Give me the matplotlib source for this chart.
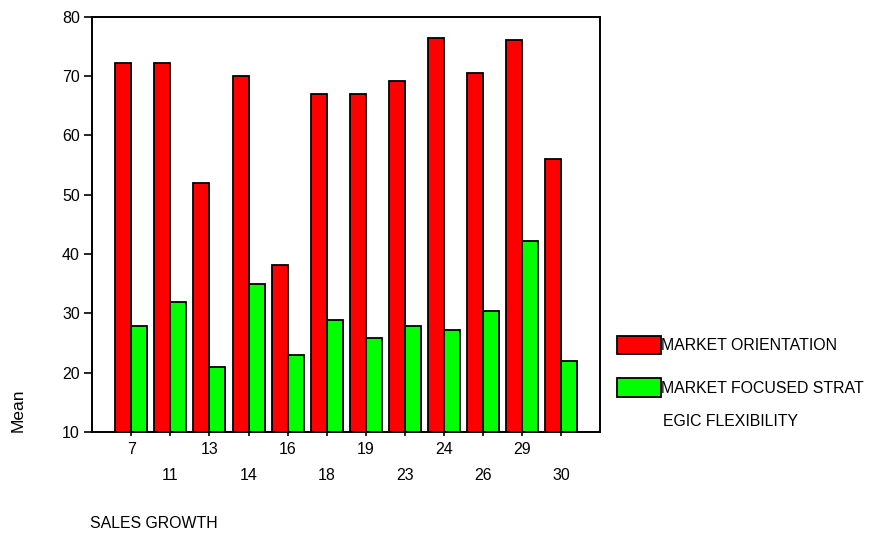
import numpy as np
import matplotlib
matplotlib.use('Agg')
import matplotlib.pyplot as plt

# SALES GROWTH groups and the two means per group
sales_growth = ['7', '11', '13', '14', '16', '18', '19', '23', '24', '26', '29', '30']
market_orientation = [72.2, 72.2, 52.0, 70.0, 38.1, 67.0, 67.0, 69.1, 76.4, 70.5, 76.1, 56.1]
strategic_flexibility = [27.9, 31.9, 21.0, 34.9, 23.0, 28.9, 25.9, 27.9, 27.2, 30.4, 42.2, 22.0]
y_ticks = [10, 20, 30, 40, 50, 60, 70, 80]

plt.rcParams['font.family'] = ['Liberation Sans', 'DejaVu Sans']
fs = 11.5
lfs = 11.4

fig = plt.figure(figsize=(8.7, 5.36), dpi=100)
ax = fig.add_axes([0.1061, 0.194, 0.5836, 0.7748])

x = np.arange(1, len(sales_growth) + 1)
w = 0.41
b1 = ax.bar(x - w / 2, market_orientation, width=w, color='#ff0000',
            edgecolor='black', linewidth=1.3, label='MARKET ORIENTATION')
b2 = ax.bar(x + w / 2, strategic_flexibility, width=w, color='#00ff00',
            edgecolor='black', linewidth=1.3, label='MARKET FOCUSED STRAT')

ax.set_xlim(0, len(sales_growth) + 1)
ax.set_ylim(10, 80)
ax.set_yticks(y_ticks)
ax.tick_params(axis='y', length=6, width=1.2, pad=3, labelsize=fs)

# two rows of x labels: even positions on major ticks, odd on minor
ax.set_xticks(x[::2])
ax.set_xticklabels(sales_growth[::2])
ax.set_xticks(x[1::2], minor=True)
ax.set_xticklabels(sales_growth[1::2], minor=True)
ax.tick_params(axis='x', which='major', length=3, width=1.2, pad=4.5, labelsize=fs)
ax.tick_params(axis='x', which='minor', length=3, width=1.2, pad=23, labelsize=fs)

for s in ax.spines.values():
    s.set_linewidth(1.4)

leg = ax.legend(handles=[b1, b2], loc='upper left',
                bbox_to_anchor=(617 / 870, 1 - 336 / 536),
                bbox_transform=fig.transFigure, frameon=False,
                fontsize=lfs, handlelength=2.78, handleheight=1.4,
                handletextpad=0.0, labelspacing=1.52, borderpad=0,
                borderaxespad=0)
fig.text(663 / 870, 1 - 421 / 536, 'EGIC FLEXIBILITY', fontsize=lfs, va='center', ha='left')

fig.text(18 / 870, 1 - 410 / 536, 'Mean', fontsize=fs + 1, rotation=90, va='center', ha='center')
fig.text(90 / 870, 1 - 524 / 536, 'SALES GROWTH', fontsize=lfs, va='center', ha='left')

fig.savefig('out.png', dpi=100)
